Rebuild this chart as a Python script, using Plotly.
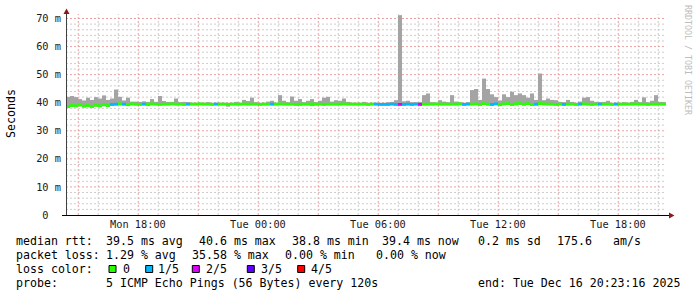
import plotly.graph_objects as go
import pandas as pd

# ---------------- data ----------------
START = "2025-12-15 14:23:16"
END = "2025-12-16 20:23:16"
BIN_MIN = 12  # minutes per consolidated bin

smoke_max = [
    42.1, 42.4, 42.0, 41.3, 40.8, 41.8, 41.0, 42.0, 41.5, 42.6,
    41.0, 41.5, 44.7, 42.1, 40.8, 41.8, 40.4, 40.4, 40.3, 40.5,
    40.3, 41.3, 40.3, 42.4, 40.6, 40.3, 40.3, 41.5, 40.2, 40.3,
    40.2, 40.0, 40.0, 40.0, 40.0, 40.2, 40.0, 40.0, 40.0, 40.0,
    40.0, 40.0, 40.3, 40.0, 41.0, 40.6, 41.8, 40.2, 40.0, 40.0,
    40.4, 40.7, 40.0, 42.7, 40.7, 40.2, 42.2, 40.7, 41.3, 40.2,
    40.7, 41.3, 40.2, 40.7, 41.8, 42.1, 40.4, 40.9, 40.7, 41.5,
    40.3, 40.0, 40.0, 40.0, 40.3, 40.0, 40.0, 40.0, 40.0, 40.0,
    40.2, 40.3, 40.9, 71.2, 40.5, 40.7, 40.2, 40.2, 40.3, 42.7,
    43.3, 40.2, 40.0, 40.9, 40.4, 40.2, 42.7, 40.4, 40.2, 40.0,
    40.2, 44.5, 44.9, 41.0, 48.6, 44.9, 43.0, 42.0, 40.8, 43.0,
    42.0, 43.9, 42.7, 43.3, 42.7, 41.8, 43.3, 41.0, 50.4, 40.9,
    41.5, 41.0, 40.9, 40.3, 40.2, 41.0, 40.3, 40.0, 40.4, 41.8,
    42.0, 40.7, 40.3, 40.2, 40.3, 40.7, 40.0, 40.0, 40.0, 40.2,
    40.0, 40.3, 41.0, 40.2, 41.9, 40.2, 40.7, 42.7, 40.3, 40.2,
]

smoke_min = [
    38.1, 38.5, 38.4, 38.7, 38.3, 38.4, 38.2, 38.6, 38.4, 38.7,
    38.5, 38.9, 39.0, 39.1, 39.0, 38.9, 39.1, 39.0, 39.0, 39.1,
    38.8, 39.1, 39.1, 39.0, 39.1, 39.1, 39.1, 39.1, 39.1, 39.0,
    39.1, 39.1, 39.1, 39.1, 39.1, 39.1, 39.0, 39.1, 39.1, 39.1,
    38.6, 39.1, 39.1, 39.1, 39.1, 39.1, 39.1, 39.1, 39.0, 39.1,
    39.1, 39.1, 39.1, 39.1, 39.1, 39.1, 39.1, 39.0, 38.9, 39.1,
    39.1, 38.8, 39.0, 39.1, 39.0, 39.1, 39.1, 39.1, 39.1, 39.1,
    39.1, 39.1, 39.1, 39.1, 39.1, 39.0, 39.1, 39.1, 39.0, 39.0,
    39.0, 39.1, 39.0, 39.0, 39.0, 39.1, 39.0, 39.1, 39.0, 39.1,
    39.1, 39.1, 39.1, 39.1, 39.1, 39.1, 39.1, 39.1, 39.1, 39.0,
    39.1, 39.1, 39.1, 39.0, 39.2, 39.0, 38.9, 39.1, 38.8, 39.1,
    39.2, 38.9, 39.1, 39.2, 39.0, 39.2, 38.9, 39.0, 39.2, 39.1,
    39.1, 39.1, 39.0, 39.1, 39.0, 39.1, 39.1, 39.0, 39.1, 39.1,
    39.1, 39.0, 39.1, 39.1, 39.1, 39.1, 39.0, 39.1, 39.1, 39.1,
    39.1, 39.1, 39.1, 39.1, 39.1, 39.0, 39.1, 39.1, 39.1, 39.1,
]

median_rtt = [
    38.6, 39.0, 38.9, 39.2, 38.8, 39.0, 38.7, 39.1, 38.9, 39.3,
    39.0, 39.4, 39.5, 39.6, 39.5, 39.3, 39.6, 39.5, 39.4, 39.5,
    39.5, 39.6, 39.5, 39.4, 39.5, 39.5, 39.6, 39.5, 39.5, 39.4,
    39.5, 39.5, 39.5, 39.6, 39.5, 39.5, 39.4, 39.5, 39.5, 39.5,
    39.4, 39.5, 39.5, 39.5, 39.6, 39.5, 39.5, 39.5, 39.4, 39.5,
    39.5, 39.5, 39.5, 39.6, 39.5, 39.5, 39.5, 39.4, 39.5, 39.5,
    39.5, 39.6, 39.5, 39.5, 39.4, 39.5, 39.5, 39.5, 39.5, 39.6,
    39.5, 39.5, 39.5, 39.5, 39.5, 39.4, 39.5, 39.5, 39.4, 39.4,
    39.4, 39.5, 39.4, 39.4, 39.4, 39.5, 39.4, 39.5, 39.4, 39.5,
    39.5, 39.5, 39.6, 39.5, 39.5, 39.5, 39.5, 39.5, 39.6, 39.4,
    39.5, 39.5, 39.6, 39.4, 39.7, 39.5, 39.4, 39.6, 39.3, 39.6,
    39.7, 39.4, 39.6, 39.8, 39.5, 39.7, 39.4, 39.5, 39.7, 39.6,
    39.5, 39.5, 39.4, 39.5, 39.4, 39.5, 39.5, 39.4, 39.5, 39.6,
    39.5, 39.4, 39.5, 39.5, 39.5, 39.5, 39.4, 39.5, 39.5, 39.5,
    39.5, 39.5, 39.6, 39.5, 39.5, 39.4, 39.5, 39.5, 39.5, 39.5,
]

loss_idx = [
    0, 0, 0, 0, 0, 0, 0, 0, 0, 0,
    0, 1, 1, 0, 1, 0, 0, 0, 0, 1,
    0, 0, 0, 0, 0, 0, 0, 0, 0, 0,
    1, 0, 0, 0, 0, 0, 0, 1, 0, 0,
    0, 0, 0, 0, 0, 0, 0, 0, 0, 0,
    0, 1, 0, 0, 0, 0, 0, 0, 0, 0,
    0, 0, 0, 0, 0, 0, 0, 0, 0, 0,
    0, 0, 0, 0, 0, 0, 0, 1, 1, 1,
    1, 1, 1, 2, 1, 1, 1, 1, 2, 0,
    0, 0, 0, 0, 0, 0, 0, 0, 0, 1,
    1, 0, 0, 0, 0, 0, 1, 1, 0, 0,
    0, 0, 0, 0, 0, 0, 0, 1, 0, 0,
    0, 0, 0, 0, 1, 0, 0, 0, 1, 0,
    0, 0, 0, 1, 0, 0, 0, 1, 0, 0,
    0, 0, 0, 0, 0, 0, 0, 0, 0, 0,
]

loss_colors = ["#26ff00", "#00b8ff", "#dd00ff", "#5e00ff", "#ff0000"]
loss_labels = ["0", "1/5", "2/5", "3/5", "4/5"]

y_tickvals = [0, 10, 20, 30, 40, 50, 60, 70]
y_ticktext = ["0  ", "10 m", "20 m", "30 m", "40 m", "50 m", "60 m", "70 m"]
x_labelvals = ["2025-12-15 18:00", "2025-12-16 00:00", "2025-12-16 06:00",
               "2025-12-16 12:00", "2025-12-16 18:00"]
x_labeltext = ["Mon 18:00", "Tue 00:00", "Tue 06:00", "Tue 12:00", "Tue 18:00"]

line1 = [("median rtt:", 16.7), ("39.5 ms avg", 107.3), ("40.6 ms max", 200.0),
         ("38.8 ms min", 293.3), ("39.4 ms now", 383.3), ("0.2 ms sd", 479.3),
         ("175.6", 558.3), ("am/s", 614.0)]
line2 = [("packet loss:", 16.7), ("1.29 % avg", 107.3), ("35.58 % max", 193.3),
         ("0.00 % min", 286.0), ("0.00 % now", 377.3)]
line3 = [("loss color:", 16.7)]
line4 = [("probe:", 16.7), ("5 ICMP Echo Pings (56 Bytes) every 120s", 107.3),
         ("end: Tue Dec 16 20:23:16 2025", 479.3)]
box_x = [109, 145.7, 192.3, 247.3, 297.7]
label_x = [124, 159, 207, 262, 312]

# ---------------- geometry helpers ----------------
W_FIG, H_FIG = 697, 297
L, T, W, H = 66, 14, 600, 201
MONO = "DejaVu Sans Mono"
LEG = 11.6
TICK = 10.3
Y_MAX = H / 2.807


def pxx(x):
    return (x - L) / W


def pxy(y):
    return (T + H - y) / H


def nb(s):
    return s.replace(" ", "\u00a0")


t0 = pd.Timestamp(START)
n = len(smoke_max)
centers = [t0 + pd.Timedelta(minutes=BIN_MIN * i + BIN_MIN / 2) for i in range(n)]
bw = BIN_MIN * 60 * 1000
MED_THICK = 1.0

fig = go.Figure()
fig.add_trace(go.Bar(
    x=centers, y=[hi - lo for hi, lo in zip(smoke_max, smoke_min)], base=smoke_min,
    width=[bw] * n, marker=dict(color="#a4a4a4", line=dict(width=0)),
    hoverinfo="skip"))
fig.add_trace(go.Bar(
    x=centers, y=[MED_THICK] * n, base=[m - MED_THICK / 2 for m in median_rtt],
    width=[bw] * n, marker=dict(color=[loss_colors[k] for k in loss_idx], line=dict(width=0)),
    hoverinfo="skip"))

MAJ = "#eba0a0"
MIN = "#cdcdcd"
DASH = "2px,2px"

fig.update_layout(
    width=W_FIG, height=H_FIG,
    margin=dict(l=L, r=W_FIG - L - W, t=T, b=H_FIG - T - H, pad=0),
    paper_bgcolor="white", plot_bgcolor="white",
    barmode="overlay", showlegend=False,
    font=dict(family=MONO, size=TICK, color="#1a1a1a"),
    xaxis=dict(type="date", range=[START, END], showgrid=False, showticklabels=False,
               ticks="", showline=False, zeroline=False),
    yaxis=dict(
        range=[0, Y_MAX],
        tickmode="array", tickvals=y_tickvals, ticktext=[nb(t) for t in y_ticktext],
        showgrid=False, ticks="outside", ticklen=2, tickcolor="rgba(0,0,0,0)",
        showline=False, zeroline=False,
        tickfont=dict(family=MONO, size=TICK, color="#1a1a1a"),
    ),
)

shapes = []
# grid: hourly vertical (red every 3 h), 2 ms horizontal (red every 10 ms)
hours = pd.date_range("2025-12-15 15:00", "2025-12-16 20:00", freq="h")
for h in hours:
    major = h.hour % 3 == 0
    shapes.append(dict(type="line", xref="x", yref="paper", layer="below",
                       x0=h, x1=h, y0=0, y1=1,
                       line=dict(color=MAJ if major else MIN, width=1, dash=DASH)))
for v in range(2, 72, 2):
    major = v % 10 == 0
    shapes.append(dict(type="line", xref="paper", yref="y", layer="below",
                       x0=0, x1=1, y0=v, y1=v,
                       line=dict(color=MAJ if major else MIN, width=1, dash=DASH)))
# axes
shapes.append(dict(type="line", xref="paper", yref="paper",
                   x0=pxx(66.5), x1=pxx(66.5), y0=pxy(215.5), y1=pxy(12),
                   line=dict(color="#404040", width=1)))
shapes.append(dict(type="line", xref="paper", yref="paper",
                   x0=pxx(62), x1=pxx(670), y0=pxy(215.5), y1=pxy(215.5),
                   line=dict(color="#000000", width=1)))
ARROW = "#8b1a1a"
shapes.append(dict(type="path", xref="paper", yref="paper",
                   path="M {},{} L {},{} L {},{} Z".format(pxx(66.5), pxy(8.5), pxx(63.5), pxy(14), pxx(69.5), pxy(14)),
                   fillcolor=ARROW, line=dict(width=0)))
shapes.append(dict(type="path", xref="paper", yref="paper",
                   path="M {},{} L {},{} L {},{} Z".format(pxx(674.5), pxy(215.5), pxx(669), pxy(212.5), pxx(669), pxy(218.5)),
                   fillcolor=ARROW, line=dict(width=0)))
# loss colour boxes
for c, bx in zip(loss_colors, box_x):
    shapes.append(dict(type="rect", xref="paper", yref="paper",
                       x0=pxx(bx), x1=pxx(bx + 7), y0=pxy(272.5), y1=pxy(265.5),
                       fillcolor=c, line=dict(color="#000000", width=1)))
fig.update_layout(shapes=shapes)

anns = []


def ann(text, x, y, size=LEG, color="#000000", xanchor="left", angle=0):
    anns.append(dict(text=nb(text), x=pxx(x), y=pxy(y), xref="paper", yref="paper",
                     showarrow=False, xanchor=xanchor, yanchor="middle",
                     textangle=angle, borderpad=0, borderwidth=0,
                     font=dict(family=MONO, size=size, color=color)))


for (txt, x), y in [(seg, 241) for seg in line1] + [(seg, 255) for seg in line2] + \
        [(seg, 269) for seg in line3] + [(seg, 283) for seg in line4]:
    ann(txt, x - 1, y)
for lab, lx in zip(loss_labels, label_x):
    ann(lab, lx - 1, 269)

# x-axis time labels, positioned on the date axis
for v, t in zip(x_labelvals, x_labeltext):
    anns.append(dict(text=nb(t), x=v, y=pxy(224), xref="x", yref="paper",
                     showarrow=False, xanchor="center", yanchor="middle",
                     borderpad=0, borderwidth=0,
                     font=dict(family=MONO, size=TICK, color="#1a1a1a")))

ann("Seconds", 11, 114, size=LEG, xanchor="center", angle=-90)
ann("RRDTOOL / TOBI OETIKER", 688, 60, size=8.3, color="#bdbdbd", xanchor="center", angle=90)
fig.update_layout(annotations=anns)

fig.write_html("out.html")
